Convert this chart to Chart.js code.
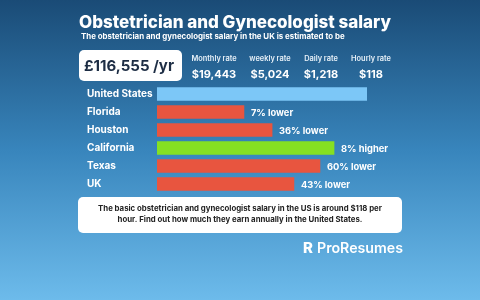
<!DOCTYPE html>
<html>
<head>
<meta charset="utf-8">
<script src="https://cdn.jsdelivr.net/npm/chart.js@4"></script>
<style>
  body { margin: 0; background: #3a86bb; }
  #chart { display: block; }
</style>
</head>
<body>
<canvas id="chart" width="480" height="300"></canvas>
<script>
// ----- DATA ----- //
const places = ['United States', 'Florida', 'Houston', 'California', 'Texas', 'UK'];
// bar lengths as drawn, United States = 100
const barLengths = [100, 41.4, 54.8, 84.3, 77.6, 65.2];
const barNotes = ['', '7% lower', '36% lower', '8% higher', '60% lower', '43% lower'];
const barColors = ['#7cc7f7', '#e8553f', '#e8553f', '#85e022', '#e8553f', '#e8553f'];

const title = 'Obstetrician and Gynecologist salary';
const subtitle = 'The obstetrician and gynecologist salary in the UK is estimated to be';
const yearly = '£116,555 /yr';
const rateLabels = ['Monthly rate', 'weekly rate', 'Daily rate', 'Hourly rate'];
const rateValues = ['$19,443', '$5,024', '$1,218', '$118'];
const footLines = [
  'The basic obstetrician and gynecologist salary in the US is around $118 per',
  'hour. Find out how much they earn annually in the United States.'
];
const brand = 'ProResumes';

const FONT = 'Inter, "Open Sans", sans-serif';

function roundRect(ctx, x, y, w, h, r) {
  ctx.beginPath();
  ctx.moveTo(x + r, y);
  ctx.arcTo(x + w, y, x + w, y + h, r);
  ctx.arcTo(x + w, y + h, x, y + h, r);
  ctx.arcTo(x, y + h, x, y, r);
  ctx.arcTo(x, y, x + w, y, r);
  ctx.closePath();
}

// ----- BACKGROUND + TEXT ----- //
const infographic = {
  id: 'infographic',
  beforeDraw(chart) {
    const ctx = chart.ctx;
    ctx.save();
    const g = ctx.createLinearGradient(0, 0, 0, 300);
    g.addColorStop(0, '#1a4b76');
    g.addColorStop(0.5, '#3885bc');
    g.addColorStop(1, '#6dbbeb');
    ctx.fillStyle = g;
    ctx.fillRect(0, 0, 480, 300);

    ctx.fillStyle = '#ffffff';
    ctx.textBaseline = 'alphabetic';
    ctx.textAlign = 'left';
    ctx.font = '800 17px ' + FONT;
    ctx.fillText(title, 79, 28);
    ctx.font = '700 7.9px ' + FONT;
    ctx.fillText(subtitle, 81, 39);

    // yearly box
    roundRect(ctx, 79, 50, 103, 31, 5);
    ctx.fill();
    ctx.fillStyle = '#1d2d44';
    ctx.font = '700 15px ' + FONT;
    ctx.textAlign = 'center';
    ctx.fillText(yearly, 129, 71);

    // rates
    const cx = [214, 270, 321, 371];
    for (let i = 0; i < rateLabels.length; i++) {
      ctx.fillStyle = '#e6f0f8';
      ctx.font = '600 7.4px ' + FONT;
      ctx.fillText(rateLabels[i], cx[i], 61);
      ctx.fillStyle = '#ffffff';
      ctx.font = '700 11px ' + FONT;
      ctx.fillText(rateValues[i], cx[i], 78);
    }

    // footer box
    ctx.fillStyle = '#ffffff';
    roundRect(ctx, 78, 197, 324, 36, 5);
    ctx.fill();
    ctx.fillStyle = '#222222';
    ctx.font = '700 7.8px ' + FONT;
    ctx.fillText(footLines[0], 240, 211);
    ctx.fillText(footLines[1], 240, 222);

    // brand
    ctx.fillStyle = '#ffffff';
    ctx.textAlign = 'left';
    ctx.font = '600 14.2px ' + FONT;
    ctx.fillText(brand, 317, 253);
    ctx.font = '800 15px ' + FONT;
    ctx.fillText('R', 303, 253);
    ctx.restore();
  },
  afterDatasetsDraw(chart) {
    const ctx = chart.ctx;
    const meta = chart.getDatasetMeta(0);
    ctx.save();
    ctx.fillStyle = '#ffffff';
    ctx.font = '700 9.3px ' + FONT;
    ctx.textAlign = 'left';
    ctx.textBaseline = 'middle';
    meta.data.forEach((bar, i) => {
      if (barNotes[i]) ctx.fillText(barNotes[i], bar.x + 7, bar.y + 1);
    });
    ctx.restore();
  }
};

// ----- CHART ----- //
new Chart(document.getElementById('chart').getContext('2d'), {
  type: 'bar',
  data: {
    labels: places,
    datasets: [{
      data: barLengths,
      backgroundColor: barColors,
      borderWidth: 0,
      barThickness: 13
    }]
  },
  options: {
    indexAxis: 'y',
    responsive: false,
    animation: false,
    layout: { padding: { left: 87, right: 113, top: 85, bottom: 107 } },
    plugins: { legend: { display: false }, tooltip: { enabled: false } },
    scales: {
      x: { display: false, min: 0, max: 100 },
      y: {
        grid: { display: false },
        border: { display: false },
        afterFit(axis) { axis.width = 70; },
        ticks: {
          color: '#ffffff',
          crossAlign: 'far',
          padding: 0,
          font: { family: FONT, size: 10, weight: '700' }
        }
      }
    }
  },
  plugins: [infographic]
});
</script>
</body>
</html>
